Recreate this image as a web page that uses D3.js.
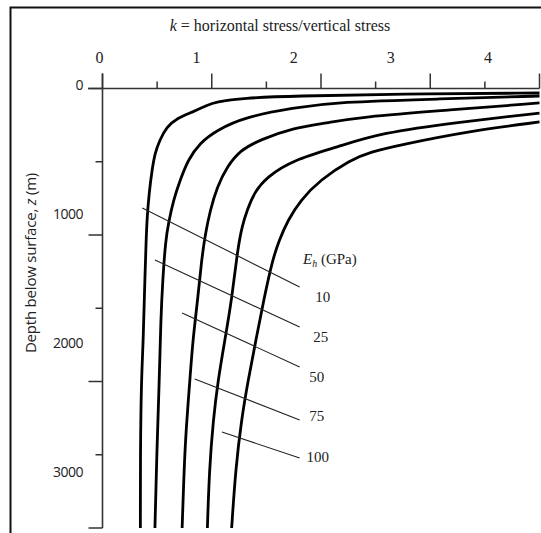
<!DOCTYPE html>
<html>
<head>
<meta charset="utf-8">
<script src="https://cdn.jsdelivr.net/npm/d3@7"></script>
<style>
  body { margin: 0; background: #fff; }
  svg { display: block; }
</style>
</head>
<body>
<div id="chart"></div>
<script>
// tick labels
var kLabels = [0, 1, 2, 3, 4];
var depthLabels = [0, 1000, 2000, 3000];
// modulus of each curve (GPa)
var moduli = [10, 25, 50, 75, 100];

// curves: k and depth z (m)
var k10 = [4.5, 3.06, 1.96, 1.45, 1.16, 1.08, 0.93, 0.77, 0.66, 0.59, 0.54, 0.51, 0.48, 0.46, 0.45, 0.43, 0.42, 0.40, 0.39, 0.39];
var z10 = [35, 43, 58, 74, 104, 128, 182, 228, 298, 398, 499, 631, 809, 994, 1149, 1636, 1946, 2255, 2797, 3400];
var k25 = [4.5, 3.48, 2.42, 1.96, 1.47, 1.18, 1.0, 0.88, 0.8, 0.73, 0.68, 0.65, 0.62, 0.6, 0.585, 0.56, 0.54];
var z25 = [58, 81, 104, 151, 220, 321, 422, 553, 708, 863, 1040, 1172, 1481, 1791, 2255, 2797, 3400];
var k50 = [4.5, 3.58, 2.65, 2.31, 1.96, 1.62, 1.42, 1.28, 1.18, 1.11, 1.06, 1.02, 0.98, 0.93, 0.9, 0.86, 0.84, 0.82];
var z50 = [112, 166, 220, 267, 306, 398, 476, 607, 762, 940, 1118, 1327, 1636, 1946, 2255, 2642, 2951, 3400];
var k75 = [4.5, 3.68, 2.86, 2.42, 1.96, 1.69, 1.56, 1.49, 1.44, 1.39, 1.33, 1.26, 1.19, 1.14, 1.1, 1.08];
var z75 = [190, 259, 344, 453, 553, 685, 808, 940, 1056, 1249, 1636, 1946, 2255, 2565, 2951, 3400];
var k100 = [4.5, 3.78, 3.06, 2.76, 2.55, 2.24, 2.04, 1.91, 1.82, 1.75, 1.66, 1.58, 1.5, 1.43, 1.37, 1.33];
var z100 = [259, 329, 437, 491, 553, 708, 863, 1017, 1172, 1327, 1636, 1946, 2255, 2565, 2951, 3400];

// leader lines from each label to its curve
var leadK0 = [0.41, 0.54, 0.82, 0.95, 1.23];
var leadZ0 = [924, 1327, 1737, 2247, 2657];
var leadK1 = [2.03, 2.03, 2.03, 2.03, 2.03];
var leadZ1 = [1535, 1845, 2154, 2565, 2859];
var labelK = [2.19, 2.17, 2.13, 2.13, 2.10];
var labelZ = [1613, 1922, 2232, 2533, 2851];

var width = 541, height = 533;

var svg = d3.select("#chart")
  .append("svg")
  .attr("width", width)
  .attr("height", height);

var x = d3.scaleLinear().domain([0, 4.5]).range([102.5, 539.5]);
var y = d3.scaleLinear().domain([0, 3400]).range([88.5, 528]);

// frame (left and top edge of the scanned figure)
svg.append("path")
  .attr("d", "M10.5,545V7.5H560")
  .attr("fill", "none")
  .attr("stroke", "#111")
  .attr("stroke-width", 2);

var axisColor = "#333";

// x axis ticks: domain split evenly, long/short alternating
var xTicks = d3.range(0, 9).map(function (i) { return i * 4.5 / 8; });
svg.append("line")
  .attr("x1", 88).attr("x2", x(4.5))
  .attr("y1", y(0)).attr("y2", y(0))
  .attr("stroke", axisColor).attr("stroke-width", 1.6);
svg.selectAll(".xtick")
  .data(xTicks)
  .enter().append("line")
  .attr("class", "xtick")
  .attr("x1", function (d) { return x(d); })
  .attr("x2", function (d) { return x(d); })
  .attr("y1", y(0))
  .attr("y2", function (d, i) { return i % 2 === 0 ? y(0) - 15 : y(0) - 7; })
  .attr("stroke", axisColor).attr("stroke-width", 1.5);

// y axis
var yTicks = d3.range(0, 7).map(function (i) { return i * 3400 / 6; });
svg.append("line")
  .attr("x1", x(0)).attr("x2", x(0))
  .attr("y1", y(0) - 15).attr("y2", y(3400))
  .attr("stroke", axisColor).attr("stroke-width", 1.6);
svg.selectAll(".ytick")
  .data(yTicks)
  .enter().append("line")
  .attr("class", "ytick")
  .attr("y1", function (d) { return y(d); })
  .attr("y2", function (d) { return y(d); })
  .attr("x1", x(0))
  .attr("x2", function (d, i) { return i % 2 === 0 ? x(0) - 14 : x(0) - 7; })
  .attr("stroke", axisColor).attr("stroke-width", 1.5);

// tick labels
svg.selectAll(".xlab")
  .data(kLabels)
  .enter().append("text")
  .attr("x", function (d) { return x(d) - 3; })
  .attr("y", 63)
  .attr("text-anchor", "middle")
  .style("font-family", "Liberation Serif, serif")
  .style("font-size", "16px")
  .style("fill", "#222")
  .text(function (d) { return d; });

svg.selectAll(".ylab")
  .data(depthLabels)
  .enter().append("text")
  .attr("x", 83)
  .attr("y", function (d) { return y(d) + 1; })
  .attr("text-anchor", "end")
  .style("font-family", "Open Sans, sans-serif")
  .style("font-size", "14px")
  .style("letter-spacing", "-0.5px")
  .style("fill", "#222")
  .text(function (d) { return d; });

// axis titles
var title = svg.append("text")
  .attr("x", 280)
  .attr("y", 31)
  .attr("text-anchor", "middle")
  .style("font-family", "Liberation Serif, serif")
  .style("font-size", "16px")
  .style("fill", "#222");
title.append("tspan").style("font-style", "italic").text("k");
title.append("tspan").text(" = horizontal stress/vertical stress");

var ytitle = svg.append("text")
  .attr("transform", "translate(36,263) rotate(-90)")
  .attr("text-anchor", "middle")
  .style("font-family", "Open Sans, sans-serif")
  .style("font-size", "15px")
  .style("letter-spacing", "-0.2px")
  .style("fill", "#222");
ytitle.append("tspan").text("Depth below surface, ");
ytitle.append("tspan").style("font-style", "italic").text("z");
ytitle.append("tspan").text(" (m)");

// curves
var curves = [[k10, z10], [k25, z25], [k50, z50], [k75, z75], [k100, z100]];
var line = d3.line()
  .x(function (d) { return x(d[0]); })
  .y(function (d) { return y(d[1]); })
  .curve(d3.curveBasis);

svg.selectAll(".curve")
  .data(curves)
  .enter().append("path")
  .attr("class", "curve")
  .attr("d", function (c) { return line(d3.zip(c[0], c[1])); })
  .attr("fill", "none")
  .attr("stroke", "#000")
  .attr("stroke-width", 2.8);

// leader lines
svg.selectAll(".lead")
  .data(moduli)
  .enter().append("line")
  .attr("class", "lead")
  .attr("x1", function (d, i) { return x(leadK0[i]); })
  .attr("y1", function (d, i) { return y(leadZ0[i]); })
  .attr("x2", function (d, i) { return x(leadK1[i]); })
  .attr("y2", function (d, i) { return y(leadZ1[i]); })
  .attr("stroke", "#222")
  .attr("stroke-width", 1.1);

svg.selectAll(".elab")
  .data(moduli)
  .enter().append("text")
  .attr("class", "elab")
  .attr("x", function (d, i) { return x(labelK[i]); })
  .attr("y", function (d, i) { return y(labelZ[i]) + 5; })
  .style("font-family", "Liberation Serif, serif")
  .style("font-size", "15px")
  .style("fill", "#222")
  .text(function (d) { return d; });

var eh = svg.append("text")
  .attr("x", x(2.065))
  .attr("y", y(1319) + 5)
  .style("font-family", "Liberation Serif, serif")
  .style("font-size", "15px")
  .style("fill", "#222");
eh.append("tspan").style("font-style", "italic").text("E");
eh.append("tspan").style("font-style", "italic").style("font-size", "10px").attr("dy", 3).text("h");
eh.append("tspan").attr("dy", -3).text("  (GPa)");
</script>
</body>
</html>
